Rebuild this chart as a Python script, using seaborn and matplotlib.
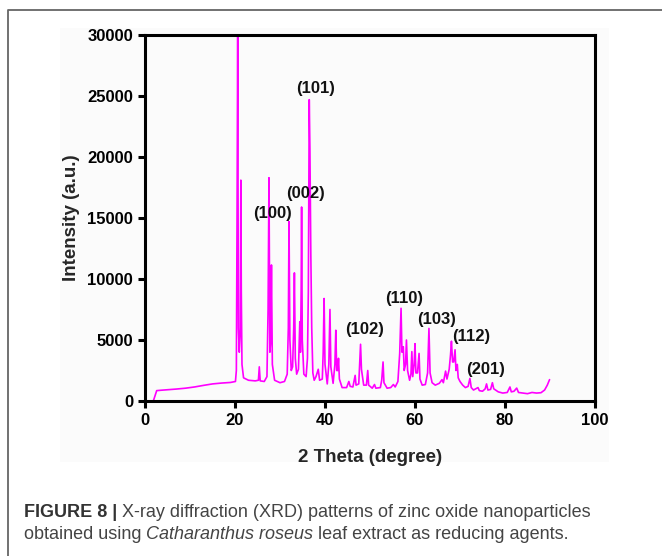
import matplotlib
matplotlib.use("Agg")
import matplotlib.pyplot as plt
from matplotlib.lines import Line2D
from matplotlib.patches import Rectangle
import numpy as np
import pandas as pd
import seaborn as sns

# XRD pattern (2 theta in degrees, intensity in a.u.)
two_theta = [
    1.85, 2.6, 3.5, 5, 7, 9, 11, 13, 15, 17, 19, 20.1,
    20.3, 20.45, 20.6, 20.75, 20.95, 21.15, 21.3, 21.4, 21.55, 21.9,
    23, 24.5, 25.2, 25.4, 25.6, 26.5,
    27.1, 27.35, 27.55, 27.75, 27.95, 28.1, 28.3, 28.8, 30, 31,
    31.6, 31.85, 32.0, 32.2, 32.5, 32.8, 33.05, 33.2, 33.4, 33.7,
    34.1, 34.4, 34.55, 34.7, 34.8, 34.95, 35.3, 35.8,
    36.1, 36.3, 36.5, 36.65, 36.85, 37.05, 37.3, 37.6, 38.0, 38.5, 38.8,
    39.4, 39.6, 39.8, 40.0, 40.5, 40.85, 41.1, 41.3, 41.8,
    42.2, 42.4, 42.6, 42.85, 43.0, 43.2, 43.8, 44.8,
    45.3, 45.6, 46.2, 46.7, 46.9, 47.5, 47.7, 47.9, 48.1, 48.6,
    49.2, 49.5, 49.7, 50.5, 51.0, 51.3, 52.3, 52.6, 52.9, 53.1, 53.8,
    54.6, 55.2, 55.6, 56.2, 56.6, 56.9, 57.1, 57.4, 57.6, 57.9, 58.1, 58.35,
    58.8, 59.1, 59.3, 59.5, 59.8, 60.0, 60.2, 60.55, 60.9, 61.1, 61.6,
    62.3, 62.8, 63.1, 63.35, 63.8, 64.5, 65.4, 66.0, 66.3, 66.8, 67.1,
    67.6, 67.9, 68.1, 68.35, 68.6, 68.9, 69.1, 69.4, 69.6, 70.0, 70.6,
    71.2, 71.8, 72.2, 72.5, 73.0, 73.5, 74.0, 74.3, 75.0, 75.6, 75.9,
    76.2, 76.8, 77.2, 77.5, 78.5, 79.5, 80.5, 81.1, 81.4, 82.0, 82.6,
    83.0, 84.0, 85.0, 86.0, 87.0, 88.0, 88.8, 89.4, 89.9,
]
intensity = [
    0, 850, 880, 920, 980, 1050, 1150, 1280, 1400, 1470, 1520, 1600,
    2500, 14500, 30000, 6000, 4000, 5500, 18100, 9000, 3000, 1900,
    1700, 1650, 1700, 2800, 1650, 1600,
    2000, 7500, 18300, 4000, 5000, 11150, 3000, 1700, 1500, 1600,
    2200, 6000, 14700, 5000, 2500, 2800, 6000, 10500, 3500, 2200,
    2600, 6500, 4000, 9000, 15900, 5000, 2200, 2000,
    3500, 9000, 24700, 20600, 12000, 6000, 2300, 1700, 2000, 2600, 1700,
    1800, 4000, 8400, 3000, 1400, 3000, 7500, 2800, 1450,
    3000, 5800, 2500, 2500, 3500, 1800, 1100, 1100,
    1600, 1200, 1150, 2100, 1300, 1400, 3000, 4650, 2600, 1300,
    1300, 2500, 1300, 1050, 1350, 1050, 1100, 1700, 3200, 1500, 1050,
    1100, 1350, 1150, 1600, 3900, 7600, 4000, 4450, 2500, 3000, 5000, 2500,
    1700, 2200, 4050, 2000, 3000, 4700, 2300, 2300, 3900, 1800, 1300,
    1350, 2300, 5950, 2300, 1500, 1300, 1450, 1750, 1500, 2450, 1800,
    2600, 3800, 4900, 3200, 3200, 4200, 2500, 3000, 1900, 1600, 1300,
    1100, 1200, 1850, 1100, 900, 1000, 1100, 850, 800, 1000, 1400,
    900, 950, 1500, 1000, 750, 650, 700, 1150, 750, 800, 1060,
    700, 650, 600, 700, 650, 680, 900, 1300, 1750,
]

# Miller index labels and where they sit
peak_labels = ["(100)", "(002)", "(101)", "(102)", "(110)", "(103)", "(112)", "(201)"]
label_x = [28.3, 35.6, 37.8, 48.9, 57.6, 64.8, 72.4, 75.7]
label_y = [15400, 17000, 25600, 5900, 8400, 6700, 5300, 2550]

x_ticks = [0, 20, 40, 60, 80, 100]
y_ticks = [0, 5000, 10000, 15000, 20000, 25000, 30000]

caption_bold = "FIGURE 8 |"
caption_line1 = "X-ray diffraction (XRD) patterns of zinc oxide nanoparticles"
caption_line2a = "obtained using"
caption_italic = "Catharanthus roseus"
caption_line2b = "leaf extract as reducing agents."

sns.set_style("ticks")
plt.rcParams["font.family"] = ["Liberation Sans", "DejaVu Sans"]

W, H = 662, 556
fig = plt.figure(figsize=(W / 100, H / 100), dpi=100)

# faint panel behind the chart image and the outer frame
fig.patches.append(Rectangle((60 / W, 1 - 462 / H), 549 / W, 434 / H,
                             transform=fig.transFigure, facecolor="#fbfbfb",
                             edgecolor="none", zorder=-1))
fig.lines.append(Line2D([8 / W, 8 / W, 1.0], [0.0, 1 - 10 / H, 1 - 10 / H],
                        transform=fig.transFigure, color="#666666", lw=1.3))

ax = fig.add_axes([145 / W, 1 - 401 / H, 450 / W, 366 / H])
ax.set_facecolor("none")

df = pd.DataFrame({"two_theta": two_theta, "intensity": intensity})
sns.lineplot(data=df, x="two_theta", y="intensity", ax=ax, color="#ff00ff",
             lw=1.2, sort=False, estimator=None)

for lab, lx, ly in zip(peak_labels, label_x, label_y):
    ax.text(lx, ly, lab, ha="center", va="center", fontsize=12,
            fontweight="bold", color="#111111")

ax.set_xlim(0, 100)
ax.set_ylim(0, 30000)
ax.set_xticks(x_ticks)
ax.set_yticks(y_ticks)
for spine in ax.spines.values():
    spine.set_visible(True)
    spine.set_linewidth(2.2)
    spine.set_color("black")
ax.tick_params(axis="both", direction="out", length=5, width=2.2,
               labelsize=12, pad=3.5, colors="black")
for t in ax.get_xticklabels() + ax.get_yticklabels():
    t.set_fontweight("bold")

ax.set_xlabel("2 Theta (degree)", fontsize=13.5, fontweight="bold", labelpad=15)
ax.set_ylabel("Intensity (a.u.)", fontsize=13.5, fontweight="bold", labelpad=5)

# caption, written piece by piece so bold / italic runs line up
renderer = fig.canvas.get_renderer()
cap_size = 13


def text_width(s, **kw):
    t = fig.text(0, 0, s, fontsize=cap_size, **kw)
    w = t.get_window_extent(renderer).width
    t.remove()
    return w


space = text_width("a a") - text_width("aa")


def put_run(x_px, y_px, s, **kw):
    t = fig.text(x_px / W, 1 - y_px / H, s, fontsize=cap_size, va="baseline",
                 ha="left", **kw)
    return x_px + t.get_window_extent(renderer).width + space


x = put_run(24, 517, caption_bold, fontweight="bold", color="#333333")
put_run(x, 517, caption_line1, color="#444444")
x = put_run(24, 539, caption_line2a, color="#444444")
x = put_run(x, 539, caption_italic, style="italic", color="#444444")
put_run(x, 539, caption_line2b, color="#444444")

fig.savefig("out.png", dpi=100)
